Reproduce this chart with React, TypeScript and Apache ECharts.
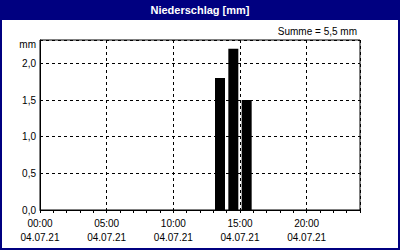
import React, { useEffect, useRef } from "react";
import * as echarts from "echarts";

const hours: string[] = [
  "00:00", "01:00", "02:00", "03:00", "04:00", "05:00", "06:00", "07:00",
  "08:00", "09:00", "10:00", "11:00", "12:00", "13:00", "14:00", "15:00",
  "16:00", "17:00", "18:00", "19:00", "20:00", "21:00", "22:00", "23:00",
];
const precipitation: number[] = [
  0, 0, 0, 0, 0, 0, 0, 0, 0, 0, 0, 0, 0, 1.8, 2.2, 1.5, 0, 0, 0, 0, 0, 0, 0, 0,
];
const dateLabel = "04.07.21";
const titleText = "Niederschlag [mm]";
const sumText = "Summe = 5,5 mm";
const unitText = "mm";

const FONT = "Liberation Sans";

export default function App() {
  const ref = useRef<HTMLDivElement>(null);
  useEffect(() => {
    if (!ref.current) return;
    const chart = echarts.init(ref.current, undefined, { renderer: "svg" });
    chart.setOption({
      animation: false,
      backgroundColor: "#ffffff",
      textStyle: { fontFamily: FONT },
      grid: {
        left: 40,
        right: 40,
        top: 40,
        bottom: 40,
        show: true,
        borderColor: "#000000",
        borderWidth: 1,
        backgroundColor: "transparent",
      },
      xAxis: [
        {
          type: "category",
          data: hours,
          boundaryGap: true,
          position: "bottom",
          axisLine: { show: true, lineStyle: { color: "#000000", width: 1 } },
          axisTick: { show: true, interval: 0, length: 3, lineStyle: { color: "#000000" } },
          axisLabel: { show: false },
          splitLine: { show: false },
        },
        {
          type: "value",
          min: 0,
          max: 24,
          interval: 5,
          position: "bottom",
          axisLine: { show: false },
          axisTick: { show: false },
          axisLabel: {
            show: true,
            showMaxLabel: false,
            margin: 6,
            color: "#000000",
            fontFamily: FONT,
            fontSize: 10,
            lineHeight: 14,
            verticalAlign: "top",
            formatter: (v: number) =>
              v >= 24 ? "" : `${String(v).padStart(2, "0")}:00\n${dateLabel}`,
          },
          splitLine: {
            show: true,
            lineStyle: { color: "#000000", type: [3, 3], width: 1 },
          },
        },
      ],
      yAxis: {
        type: "value",
        min: 0,
        max: 2.32,
        interval: 0.5,
        axisLine: { show: true, lineStyle: { color: "#000000" } },
        axisTick: { show: false },
        axisLabel: {
          showMaxLabel: false,
          margin: 4,
          color: "#000000",
          fontFamily: FONT,
          fontSize: 10,
          formatter: (v: number) => (v > 2.1 ? "" : v.toFixed(1).replace(".", ",")),
        },
        splitLine: {
          show: true,
          lineStyle: { color: "#000000", type: [3, 3], width: 1 },
        },
      },
      series: [
        {
          type: "bar",
          xAxisIndex: 0,
          yAxisIndex: 0,
          data: precipitation,
          barWidth: 10,
          itemStyle: { color: "#000000" },
        },
      ],
      graphic: [
        {
          type: "rect",
          shape: { x: 0, y: 0, width: 400, height: 20 },
          style: { fill: "#000080" },
          z: 10,
        },
        {
          type: "rect",
          shape: { x: 1, y: 1, width: 398, height: 248 },
          style: { fill: "none", stroke: "#000080", lineWidth: 2 },
          z: 10,
        },
        {
          type: "text",
          x: 200,
          y: 10,
          style: {
            text: titleText,
            fill: "#ffffff",
            font: `bold 11px "${FONT}"`,
            align: "center",
            verticalAlign: "middle",
          },
          z: 11,
        },
        {
          type: "text",
          x: 357,
          y: 31,
          style: {
            text: sumText,
            fill: "#000000",
            font: `10px "${FONT}"`,
            align: "right",
            verticalAlign: "middle",
          },
          z: 11,
        },
        {
          type: "text",
          x: 36,
          y: 44,
          style: {
            text: unitText,
            fill: "#000000",
            font: `10px "${FONT}"`,
            align: "right",
            verticalAlign: "middle",
          },
          z: 11,
        },
      ],
    });
    return () => chart.dispose();
  }, []);
  return (
    <div
      ref={ref}
      style={{ position: "fixed", left: 0, top: 0, width: 400, height: 250 }}
    />
  );
}
